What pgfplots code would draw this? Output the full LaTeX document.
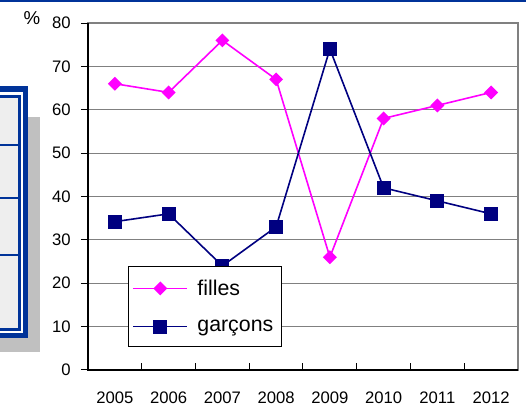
\documentclass[border=0pt]{standalone}
\usepackage{fontspec}
\setmainfont{Liberation Sans}
\usepackage{pgfplots}
\pgfplotsset{compat=1.18}
\definecolor{fil}{RGB}{255,0,255}
\definecolor{gar}{RGB}{0,0,128}
\definecolor{bord}{RGB}{0,51,153}
\definecolor{gridg}{RGB}{128,128,128}
\definecolor{shadowg}{RGB}{192,192,192}
\definecolor{cellg}{RGB}{238,238,238}
\newcommand{\chfont}{\fontsize{12.5}{15}\selectfont}
\newcommand{\lgfont}{\fontsize{16}{19}\selectfont}
\begin{document}
\begin{tikzpicture}[x=0.75pt,y=0.75pt]
\path[use as bounding box] (0,0) rectangle (526,407);
% top rule
\fill[bord] (0,405) rectangle (526,407);
% partial table at left
\fill[shadowg] (0,55) rectangle (40,290);
\fill[bord] (0,69) rectangle (28,321);
\fill[white] (0,74) rectangle (23,315);
\fill[bord] (0,76) rectangle (21,312);
\fill[cellg] (0,79) rectangle (18,309);
\fill[bord] (0,261) rectangle (18,263);
\fill[bord] (0,208) rectangle (18,210);
\fill[bord] (0,151) rectangle (18,153);
\node[font=\fontsize{14}{16}\selectfont] at (32,389) {\%};
\begin{axis}[
  at={(66pt,27.75pt)}, anchor=south west, scale only axis,
  width=322.5pt, height=260.25pt,
  xmin=0.5, xmax=8.5, ymin=0, ymax=80,
  xtick={1,...,8}, xticklabels={2005,2006,2007,2008,2009,2010,2011,2012},
  major x tick style={draw=none},
  minor xtick={1.5,2.5,3.5,4.5,5.5,6.5,7.5},
  minor x tick style={black, line width=0.75pt},
  minor tick length=5.25pt,
  ytick={0,10,...,80},
  major tick length=5.25pt,
  major y tick style={black, line width=0.75pt, xshift=-5.25pt},
  tick align=inside,
  xtick pos=bottom, ytick pos=left,
  ymajorgrids, grid style={gridg, line width=0.9pt},
  axis line style={gridg, line width=0.9pt},
  clip=false,
  tick label style={font=\chfont},
  /pgf/number format/assume math mode=true,
  yticklabel style={anchor=east, xshift=-9.5pt},
  xticklabel style={yshift=-12.5pt},
  legend style={at={(0.093,0.300)}, anchor=north west, draw=black, fill=white,
    line width=0.75pt, inner xsep=3pt, inner ysep=7pt, row sep=11pt,
    font=\lgfont, legend cell align=left, nodes={inner sep=3pt}},
  legend image code/.code={\draw[mark repeat=2,mark phase=2,#1] plot coordinates {(0pt,0pt) (20.25pt,0pt) (40.5pt,0pt)};},
]
\addplot[fil, line width=1.2pt, mark=square*, mark size=3.1pt, mark options={rotate=45, fill=fil, draw=fil}]
  coordinates {(1,66) (2,64) (3,76) (4,67) (5,26) (6,58) (7,61) (8,64)};
\addlegendentry{\hspace{4pt}filles}
\addplot[gar, line width=1.2pt, mark=square*, mark size=4.6pt, mark options={fill=gar, draw=gar}]
  coordinates {(1,34.2) (2,36) (3,24) (4,33) (5,74) (6,42) (7,39) (8,36)};
\addlegendentry{\hspace{4pt}garçons}
\draw[black, line width=1.1pt] (rel axis cs:0,1) -- (rel axis cs:0,0) -- (rel axis cs:1,0);
\end{axis}
\end{tikzpicture}
\end{document}
